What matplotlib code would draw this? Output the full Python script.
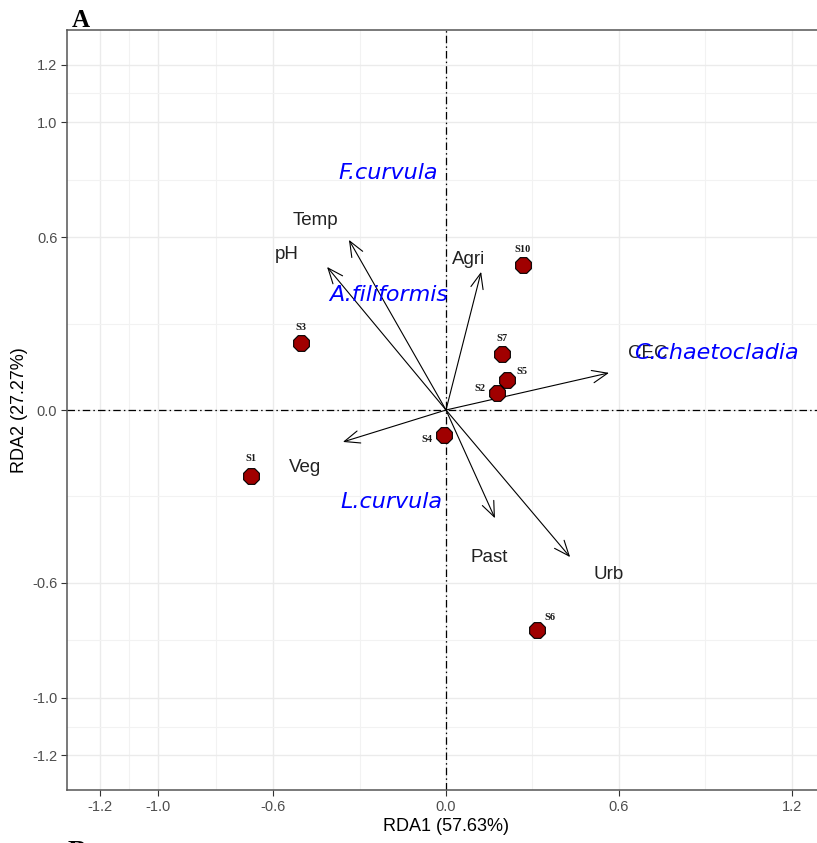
import matplotlib
matplotlib.use("Agg")
import matplotlib.pyplot as plt
import numpy as np

# ---- data ----
sites = ["S1", "S3", "S10", "S7", "S5", "S2", "S4", "S6"]
site_x = [-0.677, -0.503, 0.267, 0.194, 0.212, 0.177, -0.007, 0.316]
site_y = [-0.230, 0.233, 0.504, 0.195, 0.104, 0.059, -0.087, -0.765]

env = ["Temp", "pH", "Agri", "CEC", "Veg", "Past", "Urb"]
env_x = [-0.337, -0.413, 0.122, 0.566, -0.358, 0.170, 0.431]
env_y = [0.591, 0.497, 0.480, 0.129, -0.111, -0.376, -0.511]
env_lab_x = [-0.455, -0.552, 0.080, 0.700, -0.490, 0.149, 0.566]
env_lab_y = [0.657, 0.539, 0.522, 0.195, -0.198, -0.511, -0.570]

species = ["F.curvula", "A.filiformis", "C.chaetocladia", "L.curvula"]
sp_x = [-0.200, -0.200, 0.9375, -0.189]
sp_y = [0.824, 0.400, 0.198, -0.320]

xticks = [-1.2, -1.0, -0.6, 0.0, 0.6, 1.2]
yticks = [-1.2, -1.0, -0.6, 0.0, 0.6, 1.0, 1.2]
xminor = [-1.1, -0.8, -0.3, 0.3, 0.9]
yminor = [-1.1, -0.8, -0.3, 0.3, 0.8, 1.1]

# label offsets (points) for site labels
site_off = {"S1": (0, 13), "S3": (0, 11), "S10": (0, 11), "S7": (0, 11),
            "S5": (11, 6), "S2": (-12, 3), "S4": (-12, -3), "S6": (9, 9)}

# ---- figure ----
fig = plt.figure(figsize=(8.17, 8.43), dpi=100)
ax = fig.add_axes([67 / 817, 1 - 790 / 843, 758 / 817, 760 / 843])
ax.set_xlim(-1.316, 1.316)
ax.set_ylim(-1.32, 1.32)

ax.set_xticks(xticks)
ax.set_xticklabels([f"{t:.1f}" for t in xticks])
ax.set_yticks(yticks)
ax.set_yticklabels([f"{t:.1f}" for t in yticks])
ax.set_xticks(xminor, minor=True)
ax.set_yticks(yminor, minor=True)
ax.tick_params(which="minor", length=0)
ax.tick_params(which="major", length=4, width=0.8, color="#333333",
               labelcolor="#4d4d4d", labelsize=10.5, pad=3)
for lab in ax.get_xticklabels() + ax.get_yticklabels():
    lab.set_fontfamily("Liberation Sans")

ax.grid(which="major", color="#ebebeb", lw=1.0, zorder=0)
ax.grid(which="minor", color="#f2f2f2", lw=0.8, zorder=0)
ax.set_axisbelow(True)
for s in ax.spines.values():
    s.set_color("#555555")
    s.set_linewidth(1.1)

ls = (0, (6, 2.5, 1.2, 2.5))
ax.axhline(0, color="black", lw=0.9, ls=ls, zorder=1)
ax.axvline(0, color="black", lw=0.9, ls=ls, zorder=1)

# arrows
for ex, ey in zip(env_x, env_y):
    ax.annotate("", xy=(ex, ey), xytext=(0, 0),
                arrowprops=dict(arrowstyle="->,head_length=1.1,head_width=0.45",
                                color="black", lw=0.8, shrinkA=0, shrinkB=0,
                                mutation_scale=10), zorder=3)

for name, lx, ly in zip(env, env_lab_x, env_lab_y):
    ax.text(lx, ly, name, ha="center", va="center", fontsize=13.5,
            family="Liberation Sans", color="#222222", zorder=4)

for name, sx, sy in zip(species, sp_x, sp_y):
    ax.text(sx, sy, name, ha="center", va="center", fontsize=16,
            family="DejaVu Sans", style="italic", color="#0000ff", zorder=4)

ax.scatter(site_x, site_y, s=150, marker="8", facecolor="#a00000",
           edgecolor="black", linewidth=0.8, zorder=5)
for name, sx, sy in zip(sites, site_x, site_y):
    dx, dy = site_off[name]
    ax.annotate(name, (sx, sy), xytext=(dx, dy), textcoords="offset points",
                ha="center", va="center", fontsize=7.5, fontweight="bold",
                family="Liberation Serif", color="#1a1a1a", zorder=6)

ax.set_xlabel("RDA1 (57.63%)", fontsize=13, family="Liberation Sans",
              color="black", labelpad=3)
ax.set_ylabel("RDA2 (27.27%)", fontsize=13, family="Liberation Sans",
              color="black", labelpad=3)

fig.text(72 / 817, 1 - 27 / 843, "A", fontsize=18, fontweight="bold",
         family="Liberation Serif", va="baseline", ha="left")
fig.text(68 / 817, 1 - 859 / 843, "B", fontsize=20, fontweight="bold",
         family="Liberation Serif", va="baseline", ha="left")

fig.savefig("out.png", dpi=100)
